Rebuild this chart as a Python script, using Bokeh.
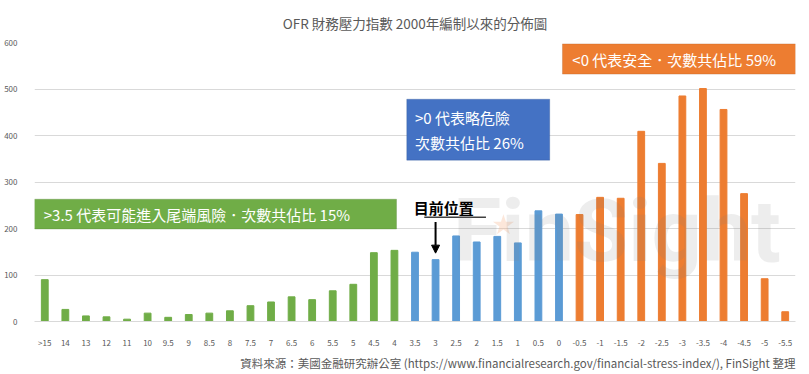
from bokeh.plotting import figure
from bokeh.models import (FactorRange, Range1d, BoxAnnotation, Label, Title, Arrow,
                          NormalHead, ColumnDataSource, FixedTicker)
from bokeh.embed import file_html
from bokeh.resources import INLINE

categories = [">15", "14", "13", "12", "11", "10", "9.5", "9", "8.5", "8", "7.5", "7",
              "6.5", "6", "5.5", "5", "4.5", "4", "3.5", "3", "2.5", "2", "1.5", "1",
              "0.5", "0", "-0.5", "-1", "-1.5", "-2", "-2.5", "-3", "-3.5", "-4",
              "-4.5", "-5", "-5.5"]
counts = [90, 26, 12, 10, 5, 18, 9, 15, 18, 23, 34, 42, 53, 47, 66, 80, 148, 153,
          149, 133, 184, 171, 183, 169, 238, 231, 230, 267, 265, 409, 340, 485, 501,
          456, 275, 92, 21]
groups = ["tail"] * 18 + ["risk"] * 8 + ["safe"] * 11
group_colors = {"tail": "#70ad47", "risk": "#5b9bd5", "safe": "#ed7d31"}
y_ticks = [0, 100, 200, 300, 400, 500, 600]

FONT = "Noto Sans CJK TC"

src = ColumnDataSource(dict(cat=categories, count=counts,
                            color=[group_colors[g] for g in groups]))

p = figure(x_range=FactorRange(*categories), y_range=Range1d(0, 600),
           width=809, height=372, output_backend="svg", toolbar_location=None,
           min_border_left=34, min_border_right=14, min_border_top=42, min_border_bottom=38)

p.vbar(x="cat", top="count", width=0.33, color="color", source=src)

p.title.text = "OFR 財務壓力指數 2000年編制以來的分佈圖"
p.title.align = "center"
p.title.vertical_align = "top"
p.title.text_font = FONT
p.title.text_font_size = "13.5px"
p.title.text_font_style = "normal"
p.title.text_color = "#595959"
p.title.standoff = 16

p.add_layout(Title(text="資料來源：美國金融研究辦公室 (https://www.financialresearch.gov/financial-stress-index/), FinSight 整理",
                   align="right", text_font=FONT, text_font_size="11.5px",
                   text_font_style="normal", text_color="#595959", standoff=4), "below")

p.outline_line_color = None
p.xgrid.grid_line_color = None
p.ygrid.grid_line_color = "#d9d9d9"
p.yaxis.ticker = FixedTicker(ticks=y_ticks)
for ax in (p.xaxis[0], p.yaxis[0]):
    ax.major_tick_line_color = None
    ax.minor_tick_line_color = None
    ax.major_label_text_font_size = "8px"
    ax.major_label_text_color = "#595959"
    ax.major_label_text_font = FONT
p.yaxis.axis_line_color = None
p.xaxis.axis_line_color = "#d9d9d9"
p.xaxis.major_label_standoff = 9
p.yaxis.major_label_standoff = 11

# watermark
p.add_layout(Label(x=20.35, y=86, text="FinSight", text_font="Roboto",
                   text_font_size="88px", text_font_style="bold", text_color="#7f7f7f",
                   text_alpha=0.14))
p.scatter(x=[22.8], y=[207], marker="star", size=22, fill_color="#f4b183",
          line_color=None, fill_alpha=0.3)

# green box
p.add_layout(BoxAnnotation(left=0.0, right=17.6, bottom=199, top=263, fill_color="#70ad47",
                           fill_alpha=1, line_color="#507e32", line_width=1))
p.add_layout(Label(x=0.45, y=231, text=">3.5 代表可能進入尾端風險．次數共佔比 15%",
                   text_font=FONT, text_font_size="15px", text_color="white",
                   text_baseline="middle"))

# blue box
p.add_layout(BoxAnnotation(left=18.1, right=25.05, bottom=347, top=478, fill_color="#4472c4",
                           fill_alpha=1, line_color="#2f528f", line_width=1))
p.add_layout(Label(x=18.5, y=439, text=">0 代表略危險", text_font=FONT, text_font_size="15px",
                   text_color="white", text_baseline="middle"))
p.add_layout(Label(x=18.5, y=384, text="次數共佔比 26%", text_font=FONT, text_font_size="15px",
                   text_color="white", text_baseline="middle"))

# orange box
p.add_layout(BoxAnnotation(left=25.67, right=37.0, bottom=532, top=597, fill_color="#ed7d31",
                           fill_alpha=1, line_color="#ae5a21", line_width=1))
p.add_layout(Label(x=26.15, y=564, text="<0 代表安全．次數共佔比 59%", text_font=FONT,
                   text_font_size="15px", text_color="white", text_baseline="middle"))

# current position marker
p.add_layout(Label(x=19.9, y=246, text="目前位置", text_font=FONT, text_font_size="15px",
                   text_font_style="bold", text_color="black", text_align="center",
                   text_baseline="middle"))
p.segment(x0=[18.95], y0=[224], x1=[21.95], y1=[224], line_color="#404040", line_width=1.5)
p.add_layout(Arrow(x_start=19.5, y_start=214, x_end=19.5, y_end=147, line_color="black",
                   line_width=2, end=NormalHead(size=8, fill_color="black", line_color="black")))

open("out.html", "w").write(file_html(p, INLINE))
